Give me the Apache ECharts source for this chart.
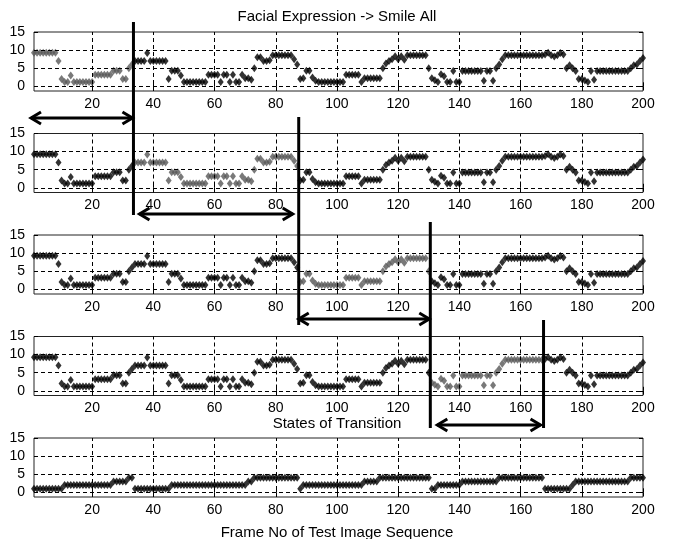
<!DOCTYPE html>
<html>
<head>
<meta charset="utf-8">
<script src="https://cdn.jsdelivr.net/npm/echarts@6/dist/echarts.min.js"></script>
<style>
html,body{margin:0;padding:0;background:#fff;}
#chart{width:674px;height:539px;}
</style>
</head>
<body>
<div id="chart"></div>
<script>
// ---- data ----
const frameValues = [
  9.3,9.3,9.3,9.3,9.3,9.3,9.3,9.3,7,2,
  1.2,1.2,3,1.2,1.2,1.2,1.2,1.2,1.2,1.2,
  3.2,3.2,3.2,3.2,3.2,3.2,4.3,4.3,4.3,2,
  2,5,6,7,7,7,7,9.2,7,7,
  7,7,7,7,2,4.3,4.3,4.3,3,1.2,
  1.2,1.2,1.2,1.2,1.2,1.2,1.2,3.2,3.2,3.2,
  3.2,1.2,3.2,3.2,1.2,3.2,1.2,1.2,3.2,2.2,
  2.2,1.8,5,8,8,7,7,7.2,8.6,8.6,
  8.6,8.6,8.6,8.6,8.6,7.5,6,2,2.2,4.3,
  4.3,2.4,1.5,1.2,1.2,1.2,1.2,1.2,1.2,1.2,
  1.2,1.2,3.2,3.2,3.2,3.2,3.2,1.2,2.2,2.2,
  2.2,2.2,2.2,2.2,5,6.3,7,7.5,8.3,7.5,
  8.3,7.3,8.6,8.6,8.6,8.6,8.6,8.6,8.6,5,
  2.2,1.7,1.2,3.3,2.8,1.2,1.2,4.2,1.2,1.2,
  4.2,4.2,4.2,4.2,4.2,4.2,4.2,1.5,4.2,4.2,
  1.5,5,6,7.5,8.6,8.6,8.6,8.6,8.6,8.6,
  8.6,8.6,8.6,8.6,8.6,8.6,8.6,8.8,9.3,8.6,
  8.2,8.6,9.2,8.8,5,5.8,5,4.2,2,2,
  1.6,1.2,4.2,1.8,4.2,4.2,4.2,4.2,4.2,4.2,
  4.2,4.2,4.2,4.2,4.2,5,5.8,6,7,7.8
];
const transitionStates = [
  1,1,1,1,1,1,1,1,1,1,
  2,2,2,2,2,2,2,2,2,2,
  2,2,2,2,2,2,3,3,3,3,
  3,4,4,1,1,1,1,1,1,1,
  1,1,1,1,1,2,2,2,2,2,
  2,2,2,2,2,2,2,2,2,2,
  2,2,2,2,2,2,2,2,2,2,
  3,3,4,4,4,4,4,4,4,4,
  4,4,4,4,4,4,4,1,2,2,
  2,2,2,2,2,2,2,2,2,2,
  2,2,2,2,2,2,2,2,3,3,
  3,3,3,4,4,4,4,4,4,4,
  4,4,4,4,4,4,4,4,4,4,
  1,1,2,2,2,2,2,2,2,2,
  3,3,3,3,3,3,3,3,3,3,
  3,3,4,4,4,4,4,4,4,4,
  4,4,4,4,4,4,4,1,1,1,
  1,1,1,1,1,1,2,3,3,3,
  3,3,3,3,3,3,3,3,3,3,
  3,3,3,3,3,4,4,4,4,4
];
// highlighted (gray) frame range in each of the first four panels
const highlightRanges = [[1,33],[34,87],[88,130],[131,167]];
// boundaries between segments (frame positions of the black vertical lines)
const segmentBounds = [33.5, 87.5, 130.5, 167.5];
const xTicks = [20,40,60,80,100,120,140,160,180,200];
const yTicks = [0,5,10,15];
const xGridLines = [20,40,60,80,100,120,140,160,180];
const yGridLines = [0,5,10];
const titleText = 'Facial Expression -> Smile All';
const subTitleText = 'States of Transition';
const xLabelText = 'Frame No of Test Image Sequence';

// ---- layout ----
const gridLeft = 34, gridRight = 31, gridH = 59;
const gridTops = [32, 133.5, 235, 336.5, 438];
const FONT = 'Liberation Sans';
const DARK = '#000000', GRAY = '#585858';

const chart = echarts.init(document.getElementById('chart'), null, {renderer:'canvas'});

const grids = [], xAxes = [], yAxes = [], series = [];
for (let g = 0; g < 5; g++) {
  grids.push({left: gridLeft, right: gridRight, top: gridTops[g], height: gridH,
    show: true, borderColor: '#222', borderWidth: 1, backgroundColor: 'transparent'});
  const common = {gridIndex: g, type: 'value', min: 1, max: 200,
    axisLine: {show: false}, splitLine: {show: false}};
  xAxes.push(Object.assign({}, common, {position: 'bottom',
    axisTick: {show: true, inside: true, length: 4, customValues: xTicks, lineStyle: {color: '#000'}},
    axisLabel: {show: true, customValues: xTicks, color: '#000', fontFamily: FONT, fontSize: 14, margin: 6}}));
  xAxes.push(Object.assign({}, common, {position: 'top',
    axisTick: {show: true, inside: true, length: 4, customValues: xTicks, lineStyle: {color: '#000'}},
    axisLabel: {show: false}}));
  const ycommon = {gridIndex: g, type: 'value', min: -1.3, max: 15,
    axisLine: {show: false}, splitLine: {show: false}};
  yAxes.push(Object.assign({}, ycommon, {position: 'left',
    axisTick: {show: true, inside: true, length: 4, customValues: yTicks, lineStyle: {color: '#000'}},
    axisLabel: {show: true, customValues: yTicks, color: '#000', fontFamily: FONT, fontSize: 14, margin: 9}}));
  yAxes.push(Object.assign({}, ycommon, {position: 'right',
    axisTick: {show: true, inside: true, length: 4, customValues: yTicks, lineStyle: {color: '#000'}},
    axisLabel: {show: false}}));

  // dashed grid lines
  series.push({type: 'scatter', xAxisIndex: 2*g, yAxisIndex: 2*g, data: [], z: 1, silent: true,
    markLine: {silent: true, symbol: ['none','none'], animation: false, label: {show: false},
      lineStyle: {type: [4,3], color: '#000', width: 1},
      data: xGridLines.map(v => ({xAxis: v})).concat(yGridLines.map(v => ({yAxis: v})))}});

  const mk = (data, color) => ({type: 'scatter', xAxisIndex: 2*g, yAxisIndex: 2*g, data,
    symbol: 'diamond', symbolSize: [6,8], itemStyle: {color}, z: 3, animation: false, clip: false});
  if (g < 4) {
    const [a, b] = highlightRanges[g];
    const hi = [], rest = [];
    frameValues.forEach((v, i) => { const f = i + 1; (f >= a && f <= b ? hi : rest).push([f, v]); });
    series.push(mk(rest, DARK));
    series.push(mk(hi, GRAY));
  } else {
    series.push(mk(transitionStates.map((v, i) => [i + 1, v]), DARK));
  }
}

chart.setOption({
  animation: false,
  backgroundColor: '#fff',
  title: [
    {text: titleText, left: 'center', top: 4, textStyle: {fontFamily: FONT, fontSize: 15, fontWeight: 'normal', color: '#000'}},
    {text: subTitleText, left: 'center', top: 411, textStyle: {fontFamily: FONT, fontSize: 15, fontWeight: 'normal', color: '#000'}},
    {text: xLabelText, left: 'center', top: 520, textStyle: {fontFamily: FONT, fontSize: 15, fontWeight: 'normal', color: '#000'}}
  ],
  grid: grids, xAxis: xAxes, yAxis: yAxes, series
});

// ---- annotations: vertical segment lines and double arrows ----
const xp = f => chart.convertToPixel({gridIndex: 0}, [f, 0])[0];
const bx = segmentBounds.map(xp);
const vLines = [
  [bx[0], 22, 215],
  [bx[1], 117, 325],
  [bx[2], 222, 428],
  [bx[3], 320, 428]
];
const arrows = [
  [gridLeft - 4, bx[0], 118],
  [bx[0] + 5, bx[1] - 5, 214],
  [bx[1] - 1, bx[2], 319],
  [bx[2] + 6, bx[3] - 2, 425]
];
const gfx = [];
const st = {stroke: '#000', lineWidth: 3, fill: null};
vLines.forEach(([x, y1, y2]) => gfx.push({type: 'line', shape: {x1: x, y1, x2: x, y2}, style: st, z: 100}));
arrows.forEach(([x1, x2, y]) => {
  gfx.push({type: 'line', shape: {x1: x1 + 1, y1: y, x2: x2 - 1, y2: y}, style: st, z: 100});
  gfx.push({type: 'polyline', shape: {points: [[x1 + 11, y - 6], [x1 + 1, y], [x1 + 11, y + 6]]}, style: st, z: 100});
  gfx.push({type: 'polyline', shape: {points: [[x2 - 11, y - 6], [x2 - 1, y], [x2 - 11, y + 6]]}, style: st, z: 100});
});
chart.setOption({graphic: gfx});
</script>
</body>
</html>
